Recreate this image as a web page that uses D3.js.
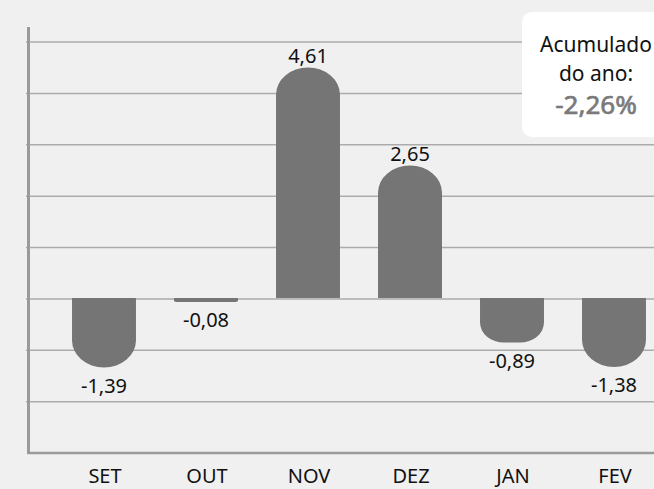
<!DOCTYPE html>
<html>
<head>
<meta charset="utf-8">
<script src="https://cdn.jsdelivr.net/npm/d3@7"></script>
<style>
  html, body { margin: 0; padding: 0; background: #f0f0f0; }
  svg { display: block; font-family: "Noto Sans", "Open Sans", sans-serif; }
</style>
</head>
<body>
<div id="chart"></div>
<script>
// monthly values (%)
const months = ["SET", "OUT", "NOV", "DEZ", "JAN", "FEV"];
const values = [-1.39, -0.08, 4.61, 2.65, -0.89, -1.38];
const labels = ["-1,39", "-0,08", "4,61", "2,65", "-0,89", "-1,38"];
const gridTicks = [-2, -1, 0, 1, 2, 3, 4, 5];
const totalLines = ["Acumulado", "do ano:"];
const totalValue = "-2,26%";

const width = 654, height = 489;

const svg = d3.select("#chart")
  .append("svg")
  .attr("width", width)
  .attr("height", height);

svg.append("rect")
  .attr("width", width)
  .attr("height", height)
  .attr("fill", "#f0f0f0");

const x = d3.scaleBand()
  .domain(months)
  .range([53, 665])
  .paddingInner(0.373)
  .paddingOuter(0.1865);

// bars are drawn a touch tighter than the grid in the original
const y = d3.scaleLinear().domain([-3, 5]).range([448, 48]);
const grid = d3.scaleLinear().domain([-3, 5]).range([453, 42]);

// gridlines
svg.append("g")
  .selectAll("line")
  .data(gridTicks)
  .join("line")
  .attr("x1", 26)
  .attr("x2", width)
  .attr("y1", d => grid(d))
  .attr("y2", d => grid(d))
  .attr("stroke", "#ababab")
  .attr("stroke-width", 1.5);

// bottom axis
svg.append("line")
  .attr("x1", 27).attr("x2", width)
  .attr("y1", grid(-3)).attr("y2", grid(-3))
  .attr("stroke", "#9a9a9a")
  .attr("stroke-width", 2.5);

// left axis
svg.append("line")
  .attr("x1", 28.5).attr("x2", 28.5)
  .attr("y1", 27).attr("y2", grid(-3) + 1)
  .attr("stroke", "#9a9a9a")
  .attr("stroke-width", 3);

// bar with rounded far end, flat at zero
function barPath(m, v) {
  const x0 = x(m), x1 = x(m) + x.bandwidth();
  const y0 = y(0), yv = y(v);
  const h = Math.abs(yv - y0);
  const ry = Math.min(27, h * 0.45);
  const rx = Math.min(x.bandwidth() / 2, ry * 1.2);
  if (v >= 0) {
    return `M${x0},${y0} L${x0},${yv + ry} A${rx},${ry} 0 0 1 ${x0 + rx},${yv}
      L${x1 - rx},${yv} A${rx},${ry} 0 0 1 ${x1},${yv + ry} L${x1},${y0} Z`;
  }
  return `M${x0},${y0} L${x0},${yv - ry} A${rx},${ry} 0 0 0 ${x0 + rx},${yv}
    L${x1 - rx},${yv} A${rx},${ry} 0 0 0 ${x1},${yv - ry} L${x1},${y0} Z`;
}

const data = months.map((m, i) => ({ m, v: values[i], label: labels[i] }));

svg.append("g")
  .selectAll("path")
  .data(data)
  .join("path")
  .attr("d", d => barPath(d.m, d.v))
  .attr("fill", "#757575");

// value labels
svg.append("g")
  .selectAll("text")
  .data(data)
  .join("text")
  .attr("x", d => x(d.m) + x.bandwidth() / 2)
  .attr("y", d => d.v >= 0 ? y(d.v) - 5 : y(d.v) + 25)
  .attr("text-anchor", "middle")
  .attr("font-size", 20)
  .attr("fill", "#111")
  .text(d => d.label);

// month labels
svg.append("g")
  .selectAll("text")
  .data(months)
  .join("text")
  .attr("x", d => x(d) + x.bandwidth() / 2 + 1)
  .attr("y", 483)
  .attr("text-anchor", "middle")
  .attr("font-size", 20)
  .attr("fill", "#111")
  .text(d => d);

// accumulated box
const box = svg.append("g");
box.append("rect")
  .attr("x", 522)
  .attr("y", 12)
  .attr("width", 150)
  .attr("height", 125)
  .attr("rx", 10)
  .attr("fill", "#fff");

box.selectAll("text.line")
  .data(totalLines)
  .join("text")
  .attr("class", "line")
  .attr("x", 596)
  .attr("y", (d, i) => 52 + i * 29)
  .attr("text-anchor", "middle")
  .attr("font-size", 21)
  .attr("fill", "#111")
  .text(d => d);

// slightly heavier than regular, like the original
box.append("text")
  .attr("x", 596)
  .attr("y", 114)
  .attr("text-anchor", "middle")
  .attr("font-size", 26)
  .attr("fill", "#7a7a7a")
  .attr("stroke", "#7a7a7a")
  .attr("stroke-width", 0.7)
  .text(totalValue);
</script>
</body>
</html>
